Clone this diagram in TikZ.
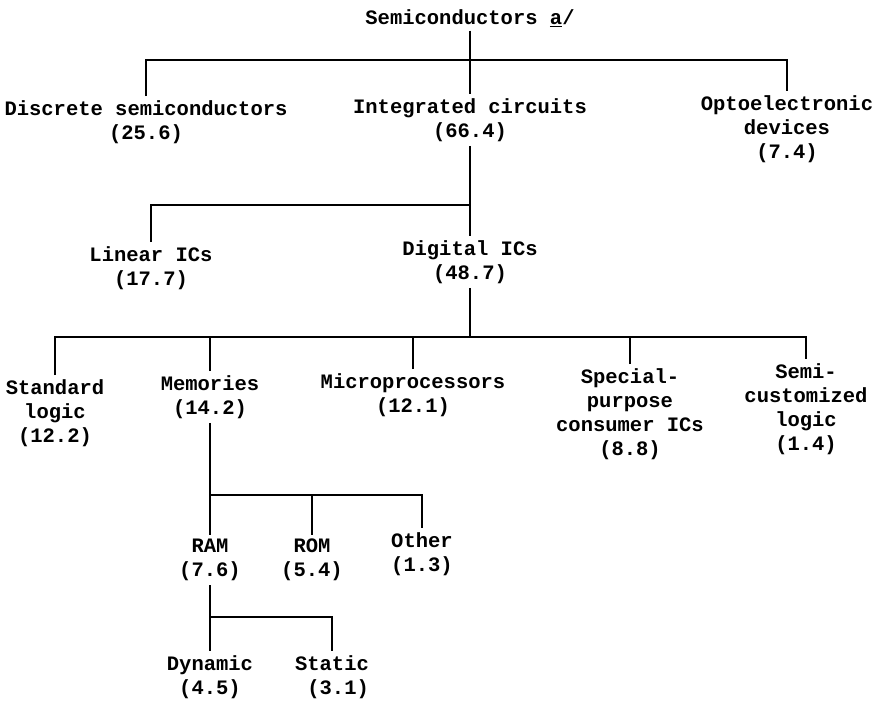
\documentclass[tikz,border=0pt]{standalone}
\usepackage{fontspec}
\newfontfamily\typewriter{Liberation Mono}
\begin{document}
\begin{tikzpicture}[x = 1pt, y = -1pt, cat/.style = {font = {\typewriter\bfseries\fontsize{20.5}{24}\selectfont}, align = center, inner sep = 4pt}, link/.style = {line width = 2pt}]
	\useasboundingbox (0, 0) rectangle (884, 709);
	\node[cat] (semis) at (470, 18) {Semiconductors \underline{a}/};
	\node[cat] (discrete) at (146, 122) {Discrete semiconductors\\(25.6)};
	\node[cat] (ics) at (470, 120) {Integrated circuits\\(66.4)};
	\node[cat] (opto) at (787, 129) {Optoelectronic\\devices\\(7.4)};
	\node[cat] (linear) at (151, 268) {Linear ICs\\(17.7)};
	\node[cat] (digital) at (470, 262) {Digital ICs\\(48.7)};
	\node[cat] (stdlogic) at (55, 413) {Standard\\logic\\(12.2)};
	\node[cat] (memories) at (210, 397) {Memories\\(14.2)};
	\node[cat] (micro) at (413, 395) {Microprocessors\\(12.1)};
	\node[cat] (special) at (630, 414) {Special-\\purpose\\consumer ICs\\(8.8)};
	\node[cat] (semicustom) at (806, 409) {Semi-\\customized\\logic\\(1.4)};
	\node[cat] (ram) at (210, 560) {RAM\\(7.6)};
	\node[cat] (rom) at (312, 560) {ROM\\(5.4)};
	\node[cat] (other) at (422, 554) {Other\\(1.3)};
	\node[cat] (dynamic) at (210, 677) {Dynamic\\(4.5)};
	\node[cat] (static) at (332, 677) {Static\\\ (3.1)};
	\coordinate (j1) at (470, 60);
	\coordinate (j2) at (470, 205);
	\coordinate (j3) at (470, 337);
	\coordinate (j4) at (210, 495);
	\coordinate (j5) at (210, 617);
	\draw[link] (semis.south) -- (ics.north);
	\draw[link] (discrete.north) |- (j1) -| (opto.north);
	\draw[link] (ics.south) -- (digital.north);
	\draw[link] (linear.north) |- (j2);
	\draw[link] (digital.south) -- (j3);
	\draw[link] (stdlogic.north) |- (j3) -| (semicustom.north);
	\foreach \n in {memories, micro, special}
		\draw[link] (\n.north) -- (\n.north |- j3);
	\draw[link] (memories.south) -- (ram.north);
	\draw[link] (j4) -| (other.north);
	\draw[link] (rom.north) -- (rom.north |- j4);
	\draw[link] (ram.south) -- (dynamic.north);
	\draw[link] (j5) -| (static.north);
\end{tikzpicture}
\end{document}
